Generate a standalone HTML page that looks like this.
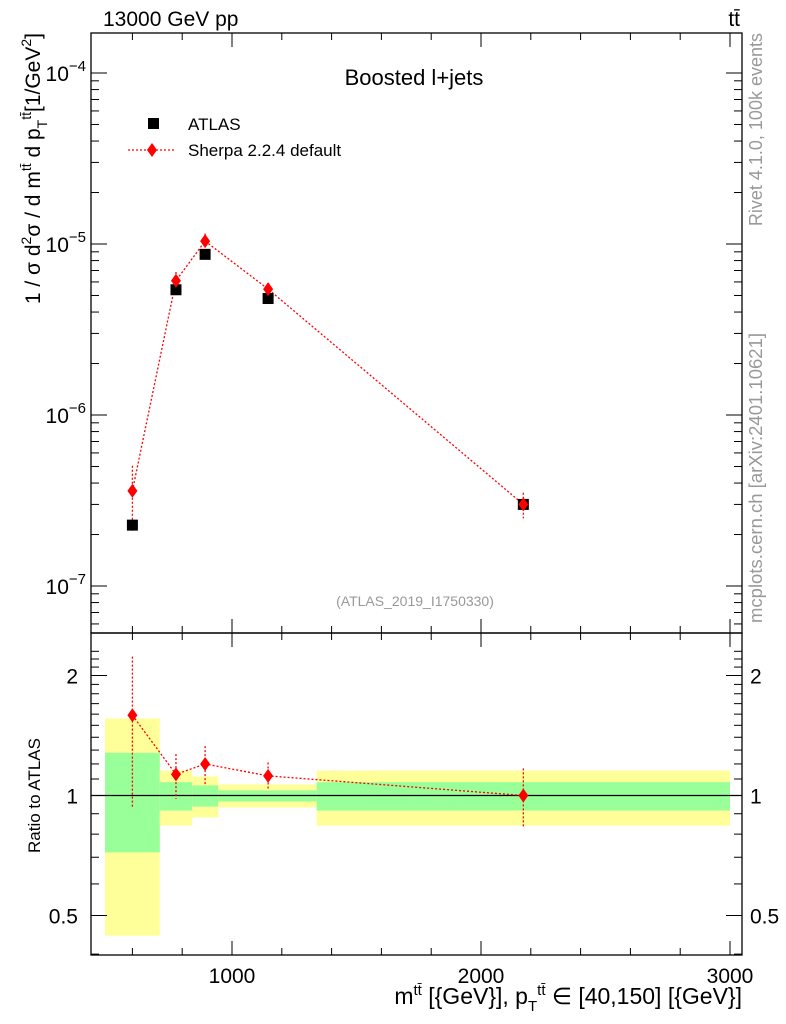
<!DOCTYPE html>
<html><head><meta charset="utf-8"><style>
body{margin:0;background:#fff;}
svg{display:block;font-family:"Liberation Sans",sans-serif;}
</style></head><body>
<svg id="c" width="786" height="1024" viewBox="0 0 786 1024"></svg>
<script>
const xCenters=[600,775,892,1145,2170];
const binEdges=[490,710,840,945,1340,3000];
const atlasVals=[2.27e-7,5.4e-6,8.7e-6,4.8e-6,3.0e-7];
const sherpaVals=[3.6e-7,6.1e-6,1.04e-5,5.45e-6,3.0e-7];
const sherpaRatio=[1.59,1.13,1.2,1.12,1.0];
const sherpaRatioUp=[2.23,1.27,1.33,1.21,1.17];
const sherpaRatioDn=[0.93,0.98,1.066,1.03,0.83];
const yellowUp=[1.56,1.155,1.116,1.066,1.155];
const yellowDn=[0.445,0.84,0.881,0.933,0.84];
const greenUp=[1.28,1.08,1.06,1.03,1.08];
const greenDn=[0.72,0.917,0.938,0.966,0.917];
const xTicks=[1000,2000,3000];
const mainYTicks=[-7,-6,-5,-4];
const ratioTicks=[0.5,1,2];

const L=91,R=742,T=33,MB=633,RB=955;
const X=v=>232+(v-1000)*0.249;
const Y=v=>244-(Math.log10(v)+5)*171;
const RY=v=>795.5-Math.log10(v)*398.6;
const svg=document.getElementById('c');
const NS='http://www.w3.org/2000/svg';
function mk(t,a,p){const e=document.createElementNS(NS,t);for(const k in a)e.setAttribute(k,a[k]);(p||svg).appendChild(e);return e;}
function txt(x,y,s,a,name){const e=mk('text',Object.assign({x:x,y:y},a));e.innerHTML=s;

return e;}

for(let i=0;i<5;i++){
 const x0=X(binEdges[i]),x1=X(binEdges[i+1]);
 const y=mk('rect',{x:x0,y:RY(yellowUp[i]),width:x1-x0,height:RY(yellowDn[i])-RY(yellowUp[i]),fill:'#ffff99'});
 
 
 const g=mk('rect',{x:x0,y:RY(greenUp[i]),width:x1-x0,height:RY(greenDn[i])-RY(greenUp[i]),fill:'#99ff99'});
 
 
}
mk('line',{x1:L,x2:R,y1:RY(1),y2:RY(1),stroke:'#000','stroke-width':1.3});

const f1=mk('rect',{x:L,y:T,width:R-L,height:MB-T,fill:'none',stroke:'#000','stroke-width':1.3});


const f2=mk('rect',{x:L,y:MB,width:R-L,height:RB-MB,fill:'none',stroke:'#000','stroke-width':1.3});



for(let v=600;v<=3000;v+=200){
 const maj=v%1000===0, x=X(v);
 [[T,1],[MB,-1],[MB,1],[RB,-1]].forEach(([y0,d])=>mk('line',{x1:x,x2:x,y1:y0,y2:y0+d*(maj?14:7),stroke:'#000'}));
}
xTicks.forEach(v=>txt(X(v),983,v,{'font-size':21,'text-anchor':'middle'},'x-tick-label'));

for(let e=-8;e<=-4;e++){for(let m=1;m<10;m++){const v=m*Math.pow(10,e);const y=Y(v);if(y<T||y>MB)continue;
 const l=m===1?16:8;mk('line',{x1:L,x2:L+l,y1:y,y2:y,stroke:'#000'});mk('line',{x1:R,x2:R-l,y1:y,y2:y,stroke:'#000'});}}
mainYTicks.forEach(e=>txt(86,Y(Math.pow(10,e))+8,'10<tspan dy="-10" font-size="15">−'+(-e)+'</tspan>',{'font-size':21,'text-anchor':'end'},'y-tick-label'));

for(let v=0.4;v<=2.3;v=+(v+0.1).toFixed(1)){const y=RY(v);if(y<MB||y>RB)continue;
 const maj=ratioTicks.includes(v);const l=maj?16:8;
 mk('line',{x1:L,x2:L+l,y1:y,y2:y,stroke:'#000'});mk('line',{x1:R,x2:R-l,y1:y,y2:y,stroke:'#000'});}
ratioTicks.forEach(v=>{txt(78,RY(v)+8,v,{'font-size':21,'text-anchor':'end'},'ratio-tick-label-left');txt(750,RY(v)+8,v,{'font-size':21},'ratio-tick-label-right');});

const red='#ff0000';
let pts=xCenters.map((x,i)=>X(x)+','+Y(sherpaVals[i])).join(' ');
const sl=mk('polyline',{points:pts,fill:'none',stroke:red,'stroke-width':1.3,'stroke-dasharray':'2,2'});


function diamond(x,y,name){const d=mk('polygon',{points:`${x},${y-7} ${x+5},${y} ${x},${y+7} ${x-5},${y}`,fill:red});
 
 }
xCenters.forEach((x,i)=>{
 const px=X(x);
 const up=sherpaVals[i]*sherpaRatioUp[i]/sherpaRatio[i],dn=sherpaVals[i]*sherpaRatioDn[i]/sherpaRatio[i];
 mk('line',{x1:px,x2:px,y1:Y(up),y2:Y(dn),stroke:red,'stroke-width':1.3,'stroke-dasharray':'2,2'});
 const a=mk('rect',{x:px-5.5,y:Y(atlasVals[i])-5.5,width:11,height:11,fill:'#000'});
 
 
 diamond(px,Y(sherpaVals[i]),'sherpa-point');
});
pts=xCenters.map((x,i)=>X(x)+','+RY(sherpaRatio[i])).join(' ');
const rl=mk('polyline',{points:pts,fill:'none',stroke:red,'stroke-width':1.3,'stroke-dasharray':'2,2'});


xCenters.forEach((x,i)=>{const px=X(x);
 mk('line',{x1:px,x2:px,y1:RY(sherpaRatioUp[i]),y2:RY(sherpaRatioDn[i]),stroke:red,'stroke-width':1.3,'stroke-dasharray':'2,2'});
 diamond(px,RY(sherpaRatio[i]),'sherpa-ratio-point');});

const lm=mk('rect',{x:148,y:118,width:11,height:11,fill:'#000'});


txt(188,130,'ATLAS',{'font-size':17},'legend-atlas');
mk('line',{x1:128,x2:176,y1:150,y2:150,stroke:red,'stroke-width':1.3,'stroke-dasharray':'2,2'});
diamond(152,150,'legend-sherpa-marker');
txt(188,156,'Sherpa 2.2.4 default',{'font-size':17},'legend-sherpa');

txt(414,85,'Boosted l+jets',{'font-size':22,'text-anchor':'middle'},'plot-title');
txt(415,606,'(ATLAS_2019_I1750330)',{'font-size':14,'text-anchor':'middle',fill:'#999'},'analysis-id');
txt(103,26,'13000 GeV pp',{'font-size':21},'beam-label');
txt(740,26,'tt̄',{'font-size':21,'text-anchor':'end'},'process-label');
txt(742,1004,'m<tspan dy="-9" font-size="15">tt̄</tspan><tspan dy="9"> [{GeV}], p</tspan><tspan dy="7" font-size="15">T</tspan><tspan dy="-16" font-size="15">tt̄</tspan><tspan dy="9"> ∈ [40,150] [{GeV}]</tspan>',{'font-size':23,'text-anchor':'end'},'x-axis-title');
txt(0,0,'1 / σ d<tspan dy="-9" font-size="14">2</tspan><tspan dy="9">σ / d  m</tspan><tspan dy="-9" font-size="14">tt̄</tspan><tspan dy="9"> d p</tspan><tspan dy="7" font-size="14">T</tspan><tspan dy="-16" font-size="14">tt̄</tspan><tspan dy="9">[1/GeV</tspan><tspan dy="-9" font-size="14">2</tspan><tspan dy="9">]</tspan>',{'font-size':21,'text-anchor':'end',transform:'translate(40,33) rotate(-90)'},'y-axis-title');
txt(0,0,'Ratio to ATLAS',{'font-size':17,'text-anchor':'start',transform:'translate(40,853) rotate(-90)'},'ratio-axis-title');
txt(0,0,'Rivet 4.1.0,  100k events',{'font-size':18,'text-anchor':'end',fill:'#999',transform:'translate(762,33) rotate(-90)'},'rivet-label');
txt(0,0,'mcplots.cern.ch [arXiv:2401.10621]',{'font-size':18.5,'text-anchor':'end',fill:'#999',transform:'translate(762,333) rotate(-90)'},'mcplots-label');
</script>
</body></html>
